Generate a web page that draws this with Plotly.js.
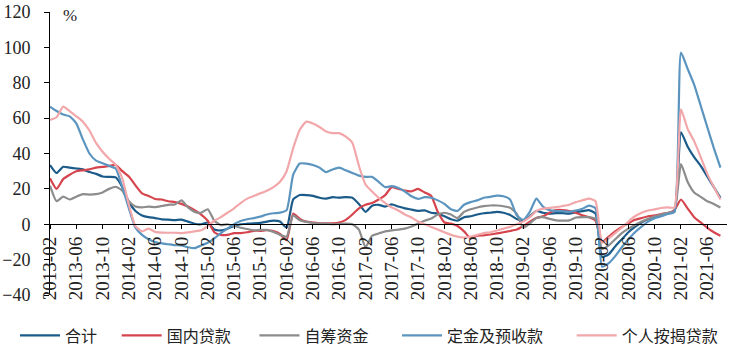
<!DOCTYPE html>
<html>
<head>
<meta charset="utf-8">
<script src="https://cdn.plot.ly/plotly-3.0.1.min.js"></script>
<style>html,body{margin:0;padding:0;background:#fff;}#chart{width:734px;height:359px;}</style>
</head>
<body>
<div id="chart"></div>
<script>
const months = [
"2013-02","2013-03","2013-04","2013-05","2013-06","2013-07","2013-08","2013-09","2013-10","2013-11","2013-12",
"2014-01","2014-02","2014-03","2014-04","2014-05","2014-06","2014-07","2014-08","2014-09","2014-10","2014-11","2014-12",
"2015-01","2015-02","2015-03","2015-04","2015-05","2015-06","2015-07","2015-08","2015-09","2015-10","2015-11","2015-12",
"2016-01","2016-02","2016-03","2016-04","2016-05","2016-06","2016-07","2016-08","2016-09","2016-10","2016-11","2016-12",
"2017-01","2017-02","2017-03","2017-04","2017-05","2017-06","2017-07","2017-08","2017-09","2017-10","2017-11","2017-12",
"2018-01","2018-02","2018-03","2018-04","2018-05","2018-06","2018-07","2018-08","2018-09","2018-10","2018-11","2018-12",
"2019-01","2019-02","2019-03","2019-04","2019-05","2019-06","2019-07","2019-08","2019-09","2019-10","2019-11","2019-12",
"2020-01","2020-02","2020-03","2020-04","2020-05","2020-06","2020-07","2020-08","2020-09","2020-10","2020-11","2020-12",
"2021-01","2021-02","2021-03","2021-04","2021-05","2021-06","2021-07","2021-08"];

const tickLabels = ["2013-02","2013-06","2013-10","2014-02","2014-06","2014-10","2015-02","2015-06","2015-10",
"2016-02","2016-06","2016-10","2017-02","2017-06","2017-10","2018-02","2018-06","2018-10","2019-02","2019-06",
"2019-10","2020-02","2020-06","2020-10","2021-02","2021-06"];

const total = [33.5,29,32.5,32,31.5,31,29.5,28.5,27,26.8,26.5,
21,12.5,7.5,5,4,3.5,2.8,2.6,2.3,2.6,1.5,0.3,
0,1,-3,-3.5,-2.5,-1,0,0.3,0.5,0.8,1.5,2,
1.5,-2,14,16.5,16.5,16,15,14.5,15.3,15,15.3,15,
11.5,7,10.5,11,10,11.2,10,9,8.3,7.6,7.8,6.5,
6,4.5,2.8,2,4,4.5,5.5,6.2,6.5,7,6.5,5.3,
3,2,4.5,7.5,6.5,6,6.3,6.3,6,6.8,7.4,8,
6,-18.5,-17,-12.5,-8.5,-4.5,-1.5,1,2.8,4,5.2,6.2,
7,52,44,38,33,27,21,15];

const domesticLoans = [26,20,25.5,28,30,30.5,31,32,32.4,33,33.5,
30,27,22,17.5,16,14.3,14,13,12.5,11.5,10,8,
5.5,2,-4.5,-6,-6,-5,-5,-4.5,-3.7,-3.7,-3.4,-3.8,
-5.5,-9,6,3,1.5,1,0.5,0.5,0.5,1,2.5,5.5,
9,11,12,14,16.5,21,20,19,18.6,20,18,16,
7,1,0.4,-1,-4,-8,-6.5,-6.3,-5.8,-5.2,-4.5,-3.8,
-3,-1,1.5,3.5,4.5,6.5,8,8,7.5,6.5,5,4,
2,-10,-7,-4,-1.5,0.5,2.5,3.5,4.5,5,5.8,6.3,
8,14,9,4,1,-2,-4.5,-6.5];

const selfRaised = [21.8,13,15.6,14,15.6,17,16.8,17,18,20,21.2,
19,13,10,9.5,10,9.7,10.3,11,11.2,13.5,9.5,7,
6.5,8.5,2,-0.5,0,-1,-2,-2.7,-3.4,-3.2,-3.2,-4.3,
-6,-7,5,2.2,1.3,0.7,0.4,0.3,0,0.2,0.4,0,
-3,-13,-6.5,-5.2,-4,-3.5,-3,-2.5,-1.3,0.4,2,3.2,
5.5,6.5,5.5,3.5,7,8.5,9.5,10.2,10.6,10.6,10.2,9.3,
6,-2,0.5,3.5,4,3,2.2,2,2.2,3.8,4,4,
3,-14,-12,-8.5,-5,-2.5,-0.5,1.5,3,4.5,5.5,6.5,
7.5,34,24,18,15.5,13,11.5,9.5];

const deposits = [66.5,64,62,61,57,48,40,36,34.5,33,31.5,
21,9,-2,-6,-8.5,-10,-10.8,-11.3,-11.8,-12,-13,-13.5,
-12,-10.5,-8,-5,-2.5,0,1.8,2.8,3.5,4.3,5.5,6.2,
6.6,8,28,34.3,34.3,33.5,32,29.5,31,32,30.5,29,
27.5,26.8,26.8,24,21,21.5,20.5,18.5,15.8,14.3,15.3,15,
13.5,11.5,8.5,7.5,11,12.5,13.5,15,15.5,16.2,15.8,14,
5,2.5,7,14.5,10,8,7.5,7.4,7,7.8,8.8,10.5,
9,-24,-22,-18,-13,-8.5,-4.5,-1.3,1.5,3.4,4.5,5.8,
7,97,88,79,67,55,43,32];

const mortgages = [59,60.5,66.5,64,61,58,53,46,41,37,33.5,
26,11,-1,-4,-2.5,-4.3,-4.7,-4.8,-4.8,-5,-4.6,-4,
-3.4,-1,2,4,6.5,9,12,14.5,16,17.5,19,21,
24,30,43,53.4,58,57,55,52.5,51.5,51.5,49.5,46,
33,22.5,18.5,15,12,9.5,7.8,5.5,3.8,1.5,0,-1.5,
-3,-4.5,-6,-7,-7.5,-7,-6,-5,-4.5,-3.5,-2.5,-1.5,
0,1.5,4,7.5,8.8,9.3,9.7,10.3,11,12.5,13.5,14.5,
13,-10.5,-8,-5,-2,1.5,4.5,6.5,7.8,8.4,9.2,9.5,
9.5,65,54,47,38,28.5,21,14];

const seriesNames = ["合计","国内贷款","自筹资金","定金及预收款","个人按揭贷款"];
const seriesValues = [total, domesticLoans, selfRaised, deposits, mortgages];
const seriesColors = ["#1b5b8a","#d6454e","#8c8c8c","#5b95bf","#f2a7aa"];
const legendIds = ["legend","legend2","legend3","legend4","legend5"];
const legendX = [-0.0517, 0.0985, 0.302, 0.5126, 0.7706];

const traces = seriesValues.map((vals, k) => ({
  type: "scatter",
  mode: "lines",
  name: seriesNames[k],
  legend: legendIds[k],
  x: months,
  y: vals,
  line: {color: seriesColors[k], width: 2.2, shape: "spline", smoothing: 0.5},
  hoverinfo: "skip"
}));

const serif = "Liberation Serif";

const layout = {
  width: 734,
  height: 359,
  paper_bgcolor: "#ffffff",
  plot_bgcolor: "#ffffff",
  margin: {l: 50, r: 7, t: 12, b: 60},
  font: {family: serif, color: "#222"},
  showlegend: true,
  xaxis: {
    type: "category",
    range: [0, 103],
    anchor: "free",
    position: 0.25,
    tickmode: "array",
    tickvals: tickLabels,
    ticktext: tickLabels,
    tickangle: -90,
    ticks: "outside",
    ticklen: 4,
    tickcolor: "#000",
    showline: true,
    linecolor: "#000",
    linewidth: 1,
    showgrid: false,
    zeroline: false,
    automargin: false,
    tickfont: {family: serif, size: 19, color: "#222"}
  },
  yaxis: {
    range: [-40, 120],
    tickmode: "linear",
    tick0: -40,
    dtick: 20,
    ticks: "outside",
    ticklen: 5,
    tickcolor: "#000",
    showline: true,
    linecolor: "#000",
    linewidth: 1,
    showgrid: false,
    zeroline: false,
    automargin: false,
    ticklabelstandoff: 10,
    tickfont: {family: serif, size: 18, color: "#222"}
  },
  annotations: [{
    text: "%",
    xref: "paper", yref: "y",
    x: 0.03, y: 118,
    xanchor: "center", yanchor: "middle",
    showarrow: false,
    font: {family: serif, size: 17, color: "#222"}
  }]
};

legendIds.forEach((id, k) => {
  layout[id] = {
    orientation: "h",
    x: legendX[k],
    xanchor: "left",
    y: -0.143,
    yanchor: "middle",
    itemwidth: 40,
    bgcolor: "rgba(0,0,0,0)",
    font: {family: "Noto Sans CJK SC", size: 16, color: "#222"}
  };
});

Plotly.newPlot("chart", traces, layout, {staticPlot: true, displayModeBar: false});
</script>
</body>
</html>
